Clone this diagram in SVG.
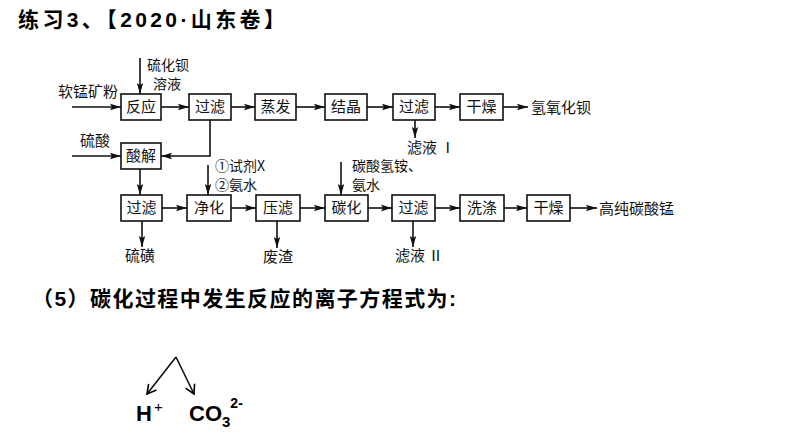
<svg xmlns="http://www.w3.org/2000/svg" width="794" height="447" viewBox="0 0 794 447">
<defs>
<style>
.bx{fill:#fff;stroke:#111;stroke-width:1.6}
.t{font-family:"Noto Sans CJK SC","Noto Sans",sans-serif;font-size:15px;fill:#111}
.s{font-size:14px}
.c{text-anchor:middle}
.ln{fill:none;stroke:#111;stroke-width:1.6}
.hd{font-family:"Liberation Sans","Noto Sans CJK SC",sans-serif;font-weight:bold;fill:#000}
</style>
<marker id="ar" markerUnits="userSpaceOnUse" markerWidth="12" markerHeight="8" refX="11" refY="4" orient="auto">
<path d="M0,0.8 L11,4 L0,7.2 L2,4 Z" fill="#111"/>
</marker>
<marker id="op" markerUnits="userSpaceOnUse" markerWidth="12" markerHeight="12" refX="10" refY="6" orient="auto">
<path d="M1,1 L10,6 L1,11" fill="none" stroke="#000" stroke-width="1.6"/>
</marker>
</defs>
<rect width="794" height="447" fill="#fff"/>

<text class="hd" x="18" y="27" font-size="21" textLength="267" lengthAdjust="spacing">练习3、【2020·山东卷】</text>

<g id="connectors">
<line class="ln" x1="72" y1="107" x2="121" y2="107" marker-end="url(#ar)"/>
<line class="ln" x1="140" y1="58" x2="140" y2="94" marker-end="url(#ar)"/>
<line class="ln" x1="161" y1="107" x2="189" y2="107" marker-end="url(#ar)"/>
<line class="ln" x1="231" y1="107" x2="255" y2="107" marker-end="url(#ar)"/>
<line class="ln" x1="296" y1="107" x2="325" y2="107" marker-end="url(#ar)"/>
<line class="ln" x1="367" y1="107" x2="393" y2="107" marker-end="url(#ar)"/>
<line class="ln" x1="435" y1="107" x2="460" y2="107" marker-end="url(#ar)"/>
<line class="ln" x1="503" y1="107" x2="528" y2="107" marker-end="url(#ar)"/>
<line class="ln" x1="415" y1="120" x2="415" y2="138" marker-end="url(#ar)"/>
<polyline class="ln" points="210,120 210,156 161,156" marker-end="url(#ar)"/>
<line class="ln" x1="72" y1="156" x2="121" y2="156" marker-end="url(#ar)"/>
<line class="ln" x1="140" y1="169" x2="140" y2="195" marker-end="url(#ar)"/>
<line class="ln" x1="142" y1="221" x2="142" y2="247" marker-end="url(#ar)"/>
<line class="ln" x1="162" y1="208" x2="187" y2="208" marker-end="url(#ar)"/>
<line class="ln" x1="208" y1="165" x2="208" y2="195" marker-end="url(#ar)"/>
<line class="ln" x1="231" y1="208" x2="256" y2="208" marker-end="url(#ar)"/>
<line class="ln" x1="277" y1="221" x2="277" y2="248" marker-end="url(#ar)"/>
<line class="ln" x1="300" y1="208" x2="325" y2="208" marker-end="url(#ar)"/>
<line class="ln" x1="341" y1="162" x2="341" y2="195" marker-end="url(#ar)"/>
<line class="ln" x1="368" y1="208" x2="392" y2="208" marker-end="url(#ar)"/>
<line class="ln" x1="413" y1="221" x2="413" y2="247" marker-end="url(#ar)"/>
<line class="ln" x1="435" y1="208" x2="460" y2="208" marker-end="url(#ar)"/>
<line class="ln" x1="504" y1="208" x2="527" y2="208" marker-end="url(#ar)"/>
<line class="ln" x1="570" y1="208" x2="597" y2="208" marker-end="url(#ar)"/>
<line class="ln" x1="176" y1="357" x2="147" y2="394" marker-end="url(#op)"/>
<line class="ln" x1="176" y1="357" x2="194" y2="394" marker-end="url(#op)"/>
</g>

<g id="labels">
<text class="t" x="58" y="97">软锰矿粉</text>
<text class="t s" x="147" y="70">硫化钡</text>
<text class="t s" x="153" y="89">溶液</text>
<text class="t" x="531" y="113">氢氧化钡</text>
<text class="t" x="407" y="153">滤液 Ⅰ</text>
<text class="t" x="80" y="146">硫酸</text>
<text class="t s" x="215" y="171">①试剂X</text>
<text class="t s" x="215" y="190">②氨水</text>
<text class="t s" x="352" y="171">碳酸氢铵、</text>
<text class="t s" x="352" y="190">氨水</text>
<text class="t" x="125" y="261">硫磺</text>
<text class="t" x="263" y="262">废渣</text>
<text class="t" x="395" y="261">滤液 Ⅱ</text>
<text class="t" x="599" y="214">高纯碳酸锰</text>
</g>

<g id="n-fanying"><rect class="bx" x="121" y="94" width="40" height="26"/><text class="t c" x="141" y="112">反应</text></g>
<g id="n-guolv1"><rect class="bx" x="189" y="94" width="42" height="26"/><text class="t c" x="210" y="112">过滤</text></g>
<g id="n-zhengfa"><rect class="bx" x="255" y="94" width="41" height="26"/><text class="t c" x="275.5" y="112">蒸发</text></g>
<g id="n-jiejing"><rect class="bx" x="325" y="94" width="42" height="26"/><text class="t c" x="346" y="112">结晶</text></g>
<g id="n-guolv2"><rect class="bx" x="393" y="94" width="42" height="26"/><text class="t c" x="414" y="112">过滤</text></g>
<g id="n-ganzao1"><rect class="bx" x="460" y="94" width="43" height="26"/><text class="t c" x="481.5" y="112">干燥</text></g>
<g id="n-suanjie"><rect class="bx" x="121" y="143" width="40" height="26"/><text class="t c" x="141" y="161">酸解</text></g>
<g id="n-guolv3"><rect class="bx" x="121" y="195" width="41" height="26"/><text class="t c" x="141.5" y="213">过滤</text></g>
<g id="n-jinghua"><rect class="bx" x="187" y="195" width="44" height="26"/><text class="t c" x="209" y="213">净化</text></g>
<g id="n-yalv"><rect class="bx" x="256" y="195" width="44" height="26"/><text class="t c" x="278" y="213">压滤</text></g>
<g id="n-tanhua"><rect class="bx" x="325" y="195" width="43" height="26"/><text class="t c" x="346.5" y="213">碳化</text></g>
<g id="n-guolv4"><rect class="bx" x="392" y="195" width="43" height="26"/><text class="t c" x="413.5" y="213">过滤</text></g>
<g id="n-xidi"><rect class="bx" x="460" y="195" width="44" height="26"/><text class="t c" x="482" y="213">洗涤</text></g>
<g id="n-ganzao2"><rect class="bx" x="527" y="195" width="43" height="26"/><text class="t c" x="548.5" y="213">干燥</text></g>

<text class="hd" x="32" y="306" font-size="21" textLength="424" lengthAdjust="spacing">（5）碳化过程中发生反应的离子方程式为:</text>

<g id="ions">
<text class="hd" x="136" y="421" font-size="22">H<tspan font-size="15" dx="2" dy="-9" font-weight="normal">+</tspan></text>
<text class="hd" x="189" y="421" font-size="22">CO<tspan font-size="15" dy="6">3</tspan><tspan font-size="14" dy="-19">2-</tspan></text>
</g>
</svg>
